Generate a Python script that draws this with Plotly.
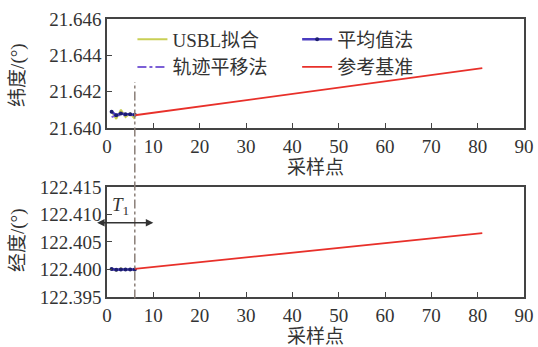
import plotly.graph_objects as go
from plotly.subplots import make_subplots

# ---- data ----
x_early = [1, 2, 3, 4, 5, 6]
usbl_lat = [21.6409, 21.6405, 21.6410, 21.6406, 21.6408, 21.6405]
mean_lat = [21.6409, 21.6407, 21.6408, 21.64075, 21.64076, 21.64073]
traj_lat = [21.6406, 21.6407, 21.6407, 21.64072, 21.64071, 21.64072]
ref_x = [6, 81]
ref_lat = [21.6407, 21.6433]

usbl_lon = [122.4001, 122.3998, 122.4002, 122.3999, 122.4001, 122.3998]
mean_lon = [122.4001, 122.39995, 122.4000, 122.39998, 122.4000, 122.39999]
traj_lon = [122.39995, 122.4000, 122.4000, 122.40001, 122.4000, 122.40001]
ref_lon = [122.4001, 122.4066]

x_ticks = [0, 10, 20, 30, 40, 50, 60, 70, 80, 90]
lat_ticks = [21.640, 21.642, 21.644, 21.646]
lon_ticks = [122.395, 122.400, 122.405, 122.410, 122.415]
T_line_x = 6

names = ["USBL拟合", "平均值法", "轨迹平移法", "参考基准"]
c_usbl = "#c9cf55"
c_mean = "#4a3cc0"
c_traj = "#7b5fd6"
c_ref = "#e8302a"

FONT = "Liberation Serif, Noto Sans CJK SC, serif"

fig = make_subplots(rows=2, cols=1, vertical_spacing=0.2)

def add_set(row, usbl, mean, traj, ref, show):
    fig.add_trace(go.Scatter(x=x_early, y=usbl, mode="lines", name=names[0],
                             line=dict(color=c_usbl, width=2), showlegend=show,
                             legend="legend"), row=row, col=1)
    fig.add_trace(go.Scatter(x=x_early, y=traj, mode="lines", name=names[2],
                             line=dict(color=c_traj, width=2, dash="dashdot"),
                             showlegend=show, legend="legend"), row=row, col=1)
    fig.add_trace(go.Scatter(x=x_early, y=mean, mode="lines+markers", name=names[1],
                             line=dict(color=c_mean, width=2.5),
                             marker=dict(color="#1c1f6e", size=4, symbol="circle"),
                             showlegend=show, legend="legend2"), row=row, col=1)
    fig.add_trace(go.Scatter(x=ref_x, y=ref, mode="lines", name=names[3],
                             line=dict(color=c_ref, width=1.8), showlegend=show,
                             legend="legend2"), row=row, col=1)

add_set(1, usbl_lat, mean_lat, traj_lat, ref_lat, True)
add_set(2, usbl_lon, mean_lon, traj_lon, ref_lon, False)

axis_common = dict(showline=True, linecolor="#444", linewidth=1.5, mirror=True,
                   ticks="inside", ticklen=5, tickcolor="#444", showgrid=False,
                   zeroline=False, automargin=False,
                   tickfont=dict(family=FONT, size=19, color="#333"))

title_font = dict(family=FONT, size=19, color="#333")
fig.update_xaxes(range=[0, 90], tickvals=x_ticks, **axis_common)
fig.update_xaxes(title=dict(text="采样点", font=title_font, standoff=0), row=1, col=1)
fig.update_xaxes(title=dict(text="采样点", font=title_font, standoff=0), row=2, col=1)
fig.update_yaxes(**axis_common)
fig.update_yaxes(range=[21.640, 21.646], tickvals=lat_ticks, tickformat=".3f",
                 row=1, col=1)
fig.update_yaxes(range=[122.395, 122.415], tickvals=lon_ticks, tickformat=".3f",
                 row=2, col=1)

leg_common = dict(orientation="v", xanchor="left", yanchor="top",
                  bgcolor="rgba(0,0,0,0)", font=dict(family=FONT, size=19, color="#333"),
                  tracegroupgap=0, itemwidth=30)
fig.update_layout(
    width=538, height=347,
    margin=dict(l=107, r=14, t=19, b=50),
    paper_bgcolor="white", plot_bgcolor="white",
    font=dict(family=FONT, size=19, color="#333"),
    legend=dict(x=0.061, y=0.995, **leg_common),
    legend2=dict(x=0.456, y=0.995, **leg_common),
)
fig.update_yaxes(domain=[0.608, 1.0], row=1, col=1)
fig.update_yaxes(domain=[0.0, 0.396], row=2, col=1)

# y axis titles
fig.add_annotation(x=-0.2134, y=0.799, xref="paper", yref="paper", text="纬度/(°)",
                   textangle=-90, showarrow=False, xanchor="center", yanchor="middle",
                   font=title_font)
fig.add_annotation(x=-0.2134, y=0.205, xref="paper", yref="paper", text="经度/(°)",
                   textangle=-90, showarrow=False, xanchor="center", yanchor="middle",
                   font=title_font)

# vertical dash-dot line marking T1
fig.add_shape(type="line", xref="x2", yref="paper", x0=T_line_x, x1=T_line_x,
              y0=-0.005, y1=0.773, line=dict(color="#8a7f78", width=1.5, dash="dashdot"))

# T1 double arrow and label
fig.add_annotation(x=10, y=122.4085, ax=-3, ay=122.4085, xref="x2", yref="y2",
                   axref="x2", ayref="y2", text=" ", showarrow=True,
                   arrowhead=2, arrowside="end+start", arrowsize=1, arrowwidth=1.5,
                   arrowcolor="#333")
fig.add_annotation(x=3, y=122.4115, xref="x2", yref="y2", text="<i>T</i><sub>1</sub>",
                   showarrow=False, font=dict(family=FONT, size=19, color="#333"))

fig.write_html("out.html", config={"displayModeBar": False},
               post_script="document.body.style.margin='0';")
